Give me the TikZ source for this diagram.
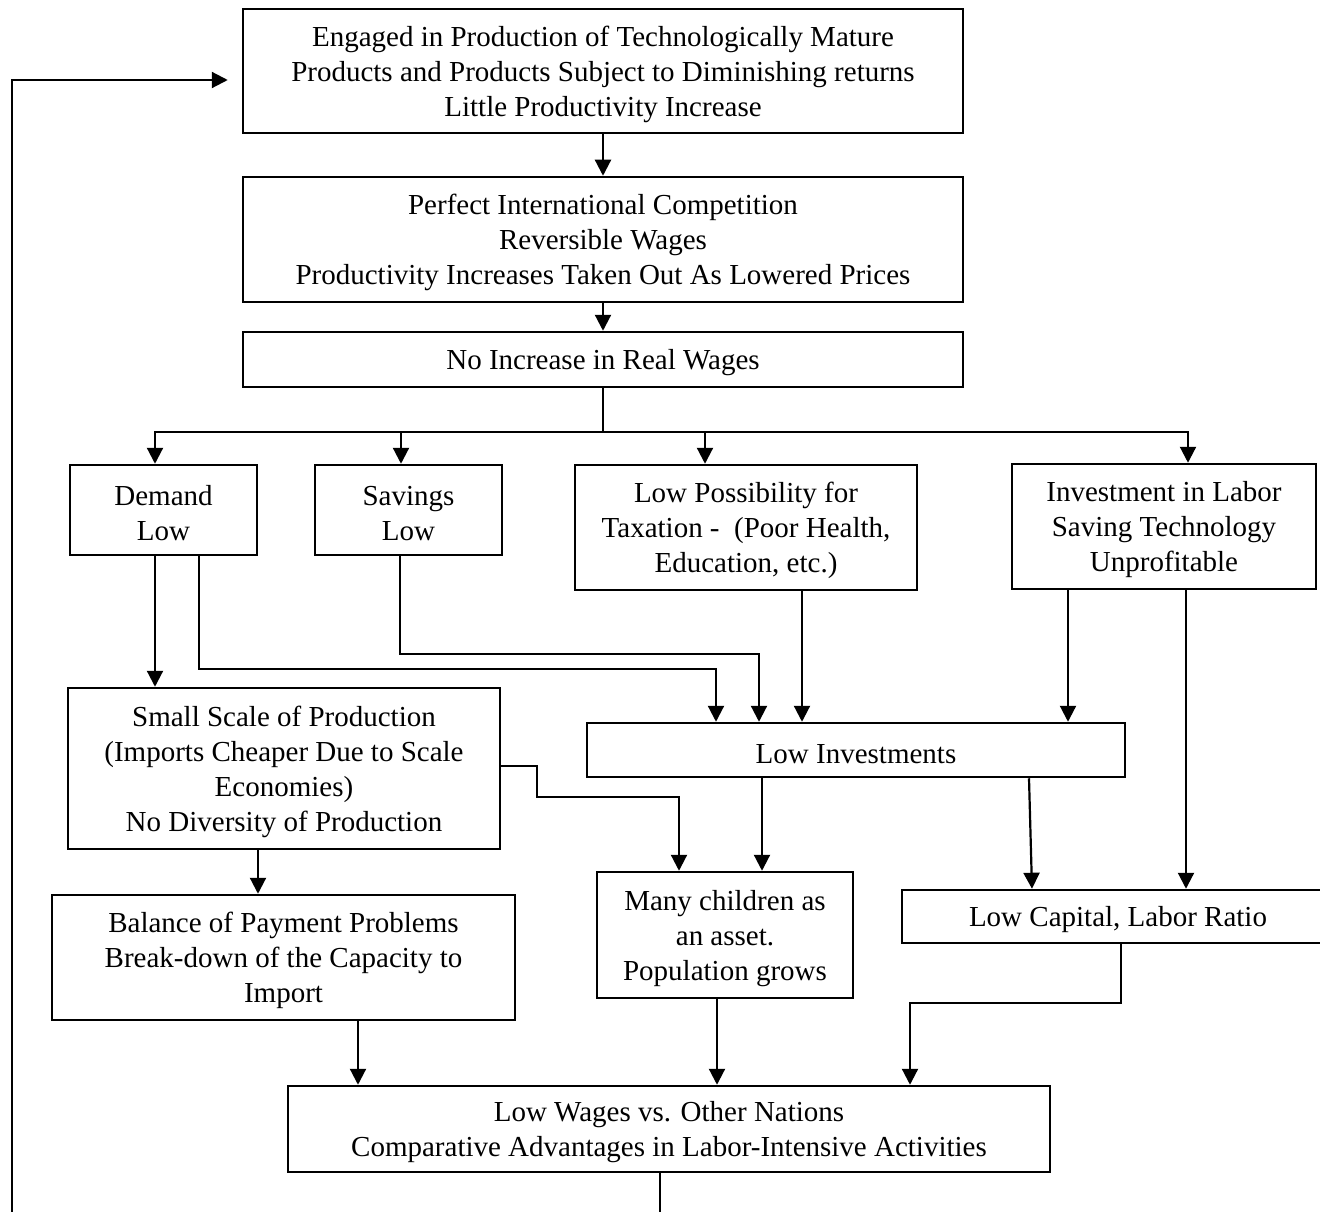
\documentclass[tikz,border=0pt]{standalone}
\usepackage{fontspec}
\setmainfont{Liberation Serif}
\usepackage{tikz}
\usetikzlibrary{arrows.meta,positioning}
\newcommand{\boxstrut}{\rule{0pt}{27pt}}

\begin{document}
\begin{tikzpicture}[x=1pt, y=-1pt]
			\tikzstyle{Box}		= [rectangle, draw, line width=2.5pt, fill=white, inner sep=0pt, align=center, font=\fontsize{29}{35}\selectfont]
			\tikzstyle{Line}	= [line width=2.2pt]
			\tikzstyle{Conn}	= [line width=2.2pt, -{Triangle[length=16pt, width=16pt]}]
			
			\useasboundingbox (0,0) rectangle (1320,1212);
			
			\node (top) at (603,71) [Box][minimum width=720pt, minimum height=124pt] {\boxstrut Engaged in Production of Technologically Mature\\Products and Products Subject to Diminishing returns\\Little Productivity Increase};
			\node (comp) at (603,239.5) [Box][minimum width=720pt, minimum height=125pt] {\boxstrut Perfect International Competition\\Reversible Wages\\Productivity Increases Taken Out As Lowered Prices};
			\node (real) at (603,359.5) [Box][minimum width=720pt, minimum height=55pt] {\boxstrut No Increase in Real Wages};
			
			\node (dem) at (163.5,510) [Box][minimum width=187pt, minimum height=90pt] {\boxstrut Demand\\Low};
			\node (sav) at (408.5,510) [Box][minimum width=187pt, minimum height=90pt] {\boxstrut Savings\\Low};
			\node (tax) at (746,527.5) [Box][minimum width=342pt, minimum height=125pt] {\boxstrut Low Possibility for\\Taxation -~~(Poor Health,\\Education, etc.)};
			\node (inv) at (1164,526.5) [Box][minimum width=304pt, minimum height=125pt] {\boxstrut Investment in Labor\\Saving Technology\\Unprofitable};
			
			\node (scale) at (284,768.5) [Box][minimum width=432pt, minimum height=161pt] {\boxstrut Small Scale of Production\\(Imports Cheaper Due to Scale\\Economies)\\No Diversity of Production};
			\node (lowinv) at (856,750) [Box][minimum width=538pt, minimum height=54pt] {\boxstrut Low Investments};
			
			\node (bop) at (283.5,957.5) [Box][minimum width=463pt, minimum height=125pt] {\boxstrut Balance of Payment Problems\\Break-down of the Capacity to\\Import};
			\node (kids) at (725,935) [Box][minimum width=256pt, minimum height=126pt] {\boxstrut Many children as\\an asset.\\Population grows};
			\node (klr) at (1118,916.5) [Box][minimum width=432pt, minimum height=53pt] {\boxstrut Low Capital, Labor Ratio};
			
			\node (wages) at (669,1129) [Box][minimum width=762pt, minimum height=86pt] {\boxstrut Low Wages vs. Other Nations\\Comparative Advantages in Labor-Intensive Activities};
			
			\coordinate (bus) at (603,432);
			\coordinate (loopstart) at (660,1215);
			\coordinate (loopend) at (12,1215);
			
			\draw [Conn] (top.south) to (comp.north);
			\draw [Conn] (comp.south) to (real.north);
			\draw [Line] (real.south) to (bus);
			\draw [Conn] (bus) -| (dem.north -| 155,0);
			\draw [Conn] (bus) -| (sav.north -| 401,0);
			\draw [Conn] (bus) -| (tax.north -| 705,0);
			\draw [Conn] (bus) -| (inv.north -| 1188,0);
			
			\draw [Conn] (dem.south -| 155,0) to (scale.north -| 155,0);
			\draw [Conn] (dem.south -| 199,0) -- (199,669) -| (lowinv.north -| 716,0);
			\draw [Conn] (sav.south -| 400,0) -- (400,654) -| (lowinv.north -| 759,0);
			\draw [Conn] (tax.south -| 802,0) to (lowinv.north -| 802,0);
			\draw [Conn] (inv.south -| 1068,0) to (lowinv.north -| 1068,0);
			\draw [Conn] (inv.south -| 1186,0) to (klr.north -| 1186,0);
			
			\draw [Conn] (scale.east |- 0,766) -| (537,797) -| (kids.north -| 679,0);
			\draw [Conn] (scale.south -| 258,0) to (bop.north -| 258,0);
			\draw [Conn] (lowinv.south -| 762,0) to (kids.north -| 762,0);
			\draw [Conn] (lowinv.south -| 1029,0) to (klr.north -| 1032,0);
			
			\draw [Conn] (bop.south -| 358,0) to (wages.north -| 358,0);
			\draw [Conn] (kids.south -| 717,0) to (wages.north -| 717,0);
			\draw [Conn] (klr.south -| 1121,0) -- (1121,1003) -| (wages.north -| 910,0);
			
			\draw [Line] (wages.south -| 660,0) to (loopstart);
			\draw [Conn] (loopend) |- (top.west |- 0,80) [shorten >=14pt];
\end{tikzpicture}
\end{document}
